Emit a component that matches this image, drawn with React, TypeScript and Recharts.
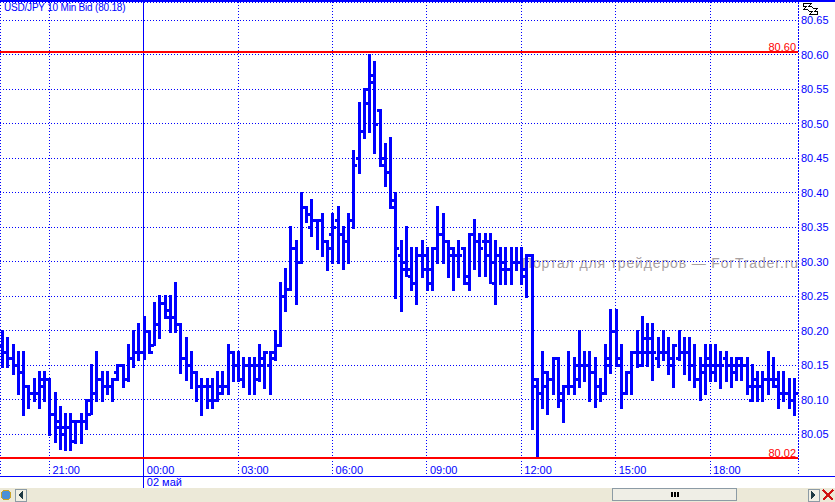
import { Bar, CartesianGrid, ComposedChart, ReferenceLine, XAxis, YAxis } from "recharts";

const BLUE = "#0000ff";
const RED = "#ff0000";

const highs = [
  80.2, 80.19, 80.18, 80.17, 80.17, 80.12, 80.13, 80.14, 80.14, 80.13, 80.11, 80.09, 80.08, 80.08, 80.07, 80.08,
  80.1, 80.15, 80.17, 80.14, 80.14, 80.13, 80.15, 80.15, 80.18, 80.2, 80.21, 80.22, 80.2, 80.24, 80.25, 80.25,
  80.25, 80.27, 80.21, 80.19, 80.17, 80.14, 80.13, 80.13, 80.13, 80.14, 80.14, 80.18, 80.17, 80.17, 80.16, 80.16,
  80.16, 80.18, 80.17, 80.17, 80.2, 80.27, 80.29, 80.35, 80.33, 80.4, 80.38, 80.39, 80.36, 80.37, 80.33, 80.37,
  80.38, 80.35, 80.37, 80.46, 80.53, 80.55, 80.6, 80.59, 80.52, 80.47, 80.48, 80.4, 80.33, 80.35, 80.32, 80.32,
  80.33, 80.32, 80.32, 80.38, 80.37, 80.33, 80.32, 80.33, 80.32, 80.34, 80.36, 80.34, 80.34, 80.34, 80.33, 80.32,
  80.32, 80.32, 80.32, 80.32, 80.31, 80.31, 80.13, 80.17, 80.14, 80.16, 80.16, 80.12, 80.17, 80.16, 80.2, 80.17,
  80.17, 80.16, 80.13, 80.18, 80.23, 80.23, 80.18, 80.14, 80.17, 80.2, 80.22, 80.21, 80.21, 80.19, 80.2, 80.19,
  80.18, 80.2, 80.19, 80.19, 80.18, 80.16, 80.18, 80.18, 80.18, 80.17, 80.17, 80.16, 80.16, 80.16, 80.16, 80.15,
  80.14, 80.14, 80.17, 80.16, 80.14, 80.14, 80.13, 80.13,
];
const lows = [
  80.15, 80.15, 80.14, 80.11, 80.08, 80.09, 80.1, 80.09, 80.1, 80.05, 80.04, 80.03, 80.03, 80.03, 80.04, 80.04,
  80.06, 80.08, 80.1, 80.1, 80.11, 80.1, 80.13, 80.12, 80.13, 80.15, 80.16, 80.16, 80.17, 80.18, 80.19, 80.22,
  80.2, 80.2, 80.14, 80.13, 80.12, 80.1, 80.08, 80.09, 80.09, 80.1, 80.11, 80.11, 80.13, 80.13, 80.12, 80.11,
  80.11, 80.13, 80.12, 80.11, 80.16, 80.18, 80.23, 80.26, 80.24, 80.3, 80.36, 80.34, 80.32, 80.31, 80.29, 80.3,
  80.3, 80.29, 80.3, 80.35, 80.43, 80.48, 80.49, 80.46, 80.44, 80.41, 80.38, 80.25, 80.23, 80.28, 80.26, 80.24,
  80.28, 80.26, 80.26, 80.3, 80.3, 80.28, 80.26, 80.28, 80.27, 80.26, 80.29, 80.28, 80.28, 80.27, 80.24, 80.27,
  80.27, 80.27, 80.29, 80.27, 80.25, 80.06, 80.02, 80.09, 80.08, 80.11, 80.09, 80.07, 80.11, 80.11, 80.12, 80.13,
  80.1, 80.09, 80.1, 80.11, 80.14, 80.15, 80.09, 80.11, 80.11, 80.15, 80.15, 80.15, 80.13, 80.15, 80.16, 80.14,
  80.12, 80.16, 80.14, 80.13, 80.12, 80.1, 80.11, 80.13, 80.13, 80.12, 80.13, 80.12, 80.13, 80.13, 80.11, 80.1,
  80.1, 80.1, 80.11, 80.12, 80.09, 80.1, 80.09, 80.08,
];
const opens = [
  80.18, 80.17, 80.16, 80.15, 80.14, 80.12, 80.11, 80.11, 80.13, 80.13, 80.08, 80.07, 80.06, 80.06, 80.04, 80.07,
  80.07, 80.08, 80.11, 80.13, 80.12, 80.12, 80.14, 80.15, 80.13, 80.16, 80.17, 80.17, 80.2, 80.18, 80.21, 80.24,
  80.23, 80.22, 80.21, 80.16, 80.15, 80.14, 80.12, 80.12, 80.1, 80.1, 80.12, 80.12, 80.17, 80.15, 80.13, 80.15,
  80.15, 80.13, 80.15, 80.15, 80.17, 80.18, 80.25, 80.26, 80.32, 80.3, 80.38, 80.35, 80.36, 80.36, 80.33, 80.34,
  80.36, 80.34, 80.33, 80.36, 80.45, 80.49, 80.53, 80.56, 80.52, 80.45, 80.43, 80.38, 80.31, 80.29, 80.28, 80.27,
  80.31, 80.29, 80.29, 80.32, 80.34, 80.33, 80.31, 80.31, 80.32, 80.27, 80.34, 80.33, 80.33, 80.31, 80.27, 80.31,
  80.3, 80.29, 80.3, 80.3, 80.29, 80.31, 80.12, 80.11, 80.12, 80.13, 80.16, 80.1, 80.12, 80.12, 80.15, 80.15,
  80.15, 80.14, 80.12, 80.11, 80.15, 80.2, 80.16, 80.11, 80.14, 80.17, 80.17, 80.19, 80.19, 80.16, 80.17, 80.17,
  80.15, 80.16, 80.17, 80.17, 80.15, 80.13, 80.15, 80.16, 80.15, 80.15, 80.16, 80.15, 80.15, 80.15, 80.15, 80.1,
  80.13, 80.12, 80.13, 80.13, 80.12, 80.11, 80.11, 80.1,
];
const closes = [
  80.17, 80.16, 80.15, 80.14, 80.12, 80.11, 80.11, 80.12, 80.13, 80.08, 80.06, 80.05, 80.06, 80.07, 80.07, 80.07,
  80.1, 80.11, 80.13, 80.12, 80.12, 80.13, 80.15, 80.13, 80.16, 80.17, 80.17, 80.2, 80.17, 80.21, 80.24, 80.22,
  80.22, 80.21, 80.16, 80.15, 80.14, 80.12, 80.12, 80.12, 80.1, 80.11, 80.12, 80.17, 80.15, 80.13, 80.15, 80.15,
  80.15, 80.16, 80.17, 80.16, 80.18, 80.25, 80.26, 80.32, 80.3, 80.38, 80.37, 80.36, 80.36, 80.33, 80.32, 80.35,
  80.34, 80.33, 80.36, 80.44, 80.49, 80.55, 80.57, 80.5, 80.44, 80.43, 80.39, 80.32, 80.3, 80.29, 80.27, 80.31,
  80.31, 80.27, 80.32, 80.34, 80.33, 80.32, 80.31, 80.31, 80.28, 80.34, 80.33, 80.32, 80.33, 80.3, 80.31, 80.29,
  80.29, 80.3, 80.3, 80.28, 80.31, 80.13, 80.11, 80.14, 80.13, 80.16, 80.11, 80.12, 80.12, 80.13, 80.15, 80.15,
  80.14, 80.12, 80.11, 80.16, 80.2, 80.15, 80.11, 80.14, 80.17, 80.15, 80.17, 80.17, 80.17, 80.17, 80.17, 80.16,
  80.18, 80.17, 80.17, 80.15, 80.13, 80.14, 80.15, 80.14, 80.15, 80.15, 80.15, 80.14, 80.16, 80.15, 80.12, 80.12,
  80.12, 80.13, 80.13, 80.13, 80.11, 80.11, 80.1, 80.11,
];

const timeSlots = [9, 27, 45, 63, 81, 99, 117, 135];
const timeLabels = ["21:00", "00:00", "03:00", "06:00", "09:00", "12:00", "15:00", "18:00"];
const midnightSlot = 27;
const dayLabel = "02 май";

const priceTicks = [80.05, 80.1, 80.15, 80.2, 80.25, 80.3, 80.35, 80.4, 80.45, 80.5, 80.55, 80.6, 80.65];
const highLine = 80.6045;
const lowLine = 80.0161;
const highLabel = "80.60";
const lowLabel = "80.02";

const title = "USD/JPY 10 Min Bid (80.18)";
const watermark = "Портал для трейдеров — ForTrader.ru";

const bars = highs.map((high, slot) => ({
  slot,
  high,
  low: lows[slot],
  open: opens[slot],
  close: closes[slot],
}));

const X_DOMAIN = [-0.42, 151.76];
const Y_DOMAIN = [79.9896, 80.6765];
const AXIS_LINE_END = 80.0128; // right axis stops just under the low line

// one OHLC bar: stem plus open tick on the left, close tick on the right
function OhlcBar(props: any) {
  const { x, y, width, height, payload } = props;
  const cx = Math.round(x + width / 2);
  const perUnit = height / (payload.high - payload.low);
  const yOf = (v: number) => Math.round(y + (payload.high - v) * perUnit);
  return (
    <g fill={BLUE}>
      <rect x={cx - 1} y={Math.round(y) - 1} width={3} height={Math.round(height) + 3} />
      <rect x={cx - 3} y={yOf(payload.open) - 1} width={3} height={3} />
      <rect x={cx + 1} y={yOf(payload.close) - 1} width={3} height={3} />
    </g>
  );
}

function TimeTick({ x, y, payload }: any) {
  const i = timeSlots.indexOf(payload.value);
  const isMidnight = payload.value === midnightSlot;
  return (
    <g>
      {isMidnight && <line x1={x} x2={x} y1={y} y2={y + 12} stroke={BLUE} />}
      <text x={x + 3} y={y - 2} fill={BLUE} fontSize={11}>
        {timeLabels[i]}
      </text>
      {isMidnight && (
        <text x={x + 3} y={y + 10} fill={BLUE} fontSize={11}>
          {dayLabel}
        </text>
      )}
    </g>
  );
}

function PriceLabel({ viewBox, text }: any) {
  return (
    <text x={viewBox.x + viewBox.width - 2} y={viewBox.y - 1} textAnchor="end" fill={RED} fontSize={11}>
      {text}
    </text>
  );
}

function Toolbar() {
  return (
    <div style={{ position: "absolute", left: 0, top: 488, width: 835, height: 14, background: "#ece9d8" }}>
      <svg width={835} height={14} style={{ display: "block" }}>
        <circle cx={6} cy={7} r={5} fill="#4a90d9" stroke="#c9a227" />
        <rect x={15} y={1} width={11} height={12} fill="#f1efe4" stroke="#8c9ba5" />
        <path d="M23 3 L23 11 L18 7 Z" fill="#1f3a44" />
        <rect x={612} y={0.5} width={124} height={12} fill="#efeee6" stroke="#8c9ba5" />
        <rect x={671} y={4} width={1.5} height={5} fill="#000" />
        <rect x={674} y={4} width={1.5} height={5} fill="#000" />
        <rect x={677} y={4} width={1.5} height={5} fill="#000" />
        <rect x={808} y={1} width={11} height={12} fill="#f1efe4" stroke="#8c9ba5" />
        <path d="M811 3 L811 11 L816 7 Z" fill="#1f3a44" />
        <path d="M823 2 L833 12 M833 2 L823 12" stroke="#d01010" strokeWidth={2} />
      </svg>
    </div>
  );
}

// small zoom glyph in the top right corner
function ZoomGlyph() {
  return (
    <svg width={18} height={14} style={{ position: "absolute", left: 801, top: 2 }}>
      <path
        d="M2.5 1.5 H10.5 L7.5 4.5 H10.5 L12.5 6.5 H16.5 L13.5 9.5 H16.5 V12.5 H8.5 L11.5 9.5 H8.5 L6.5 7.5 H2.5 L5.5 4.5 H2.5 Z"
        fill="#fff"
        stroke="#000"
      />
    </svg>
  );
}

export default function App() {
  return (
    <div
      style={{
        position: "absolute",
        left: 0,
        top: 0,
        width: 835,
        height: 502,
        overflow: "hidden",
        background: "#fff",
        fontFamily: "'Liberation Sans', Arial, sans-serif",
        shapeRendering: "crispEdges",
      }}
    >
      <div
        style={{
          position: "absolute",
          left: 522,
          top: 255,
          whiteSpace: "nowrap",
          fontSize: 14,
          letterSpacing: 0.85,
          color: "#a8a0a0",
        }}
      >
        {watermark}
      </div>
      <div
        style={{
          position: "absolute",
          left: 4,
          top: 2,
          fontSize: 10,
          letterSpacing: -0.2,
          color: BLUE,
          whiteSpace: "nowrap",
        }}
      >
        {title}
      </div>
      <div style={{ position: "absolute", left: 0, top: 0, width: 835, height: 2, background: BLUE }} />
      <div style={{ position: "absolute", left: 0, top: 476, width: 835, height: 1, background: BLUE }} />
      <div style={{ position: "absolute", left: 0, top: 0 }}>
        <ComposedChart width={835} height={502} data={bars} margin={{ top: 2, right: 0, bottom: 0, left: 0 }}>
          <CartesianGrid stroke={BLUE} strokeDasharray="1 2" />
          <XAxis
            dataKey="slot"
            type="number"
            domain={X_DOMAIN}
            ticks={timeSlots}
            interval={0}
            height={26}
            axisLine={false}
            tickLine={false}
            tickSize={0}
            tickMargin={0}
            tick={<TimeTick />}
            allowDataOverflow
          />
          <YAxis
            orientation="right"
            type="number"
            domain={Y_DOMAIN}
            ticks={priceTicks}
            width={37}
            interval={0}
            allowDataOverflow
            axisLine={false}
            tickLine={false}
            tickSize={0}
            tickMargin={3}
            tick={{ fill: BLUE, fontSize: 11, textAnchor: "start" }}
            tickFormatter={(v: number) => v.toFixed(2)}
          />
          <ReferenceLine
            segment={[
              { x: X_DOMAIN[1], y: AXIS_LINE_END },
              { x: X_DOMAIN[1], y: Y_DOMAIN[1] },
            ]}
            stroke={BLUE}
            strokeDasharray="1 2"
          />
          <ReferenceLine x={midnightSlot} stroke={BLUE} />
          <ReferenceLine
            y={highLine}
            stroke={RED}
            strokeWidth={2}
            label={(p: any) => <PriceLabel {...p} text={highLabel} />}
          />
          <ReferenceLine
            y={lowLine}
            stroke={RED}
            strokeWidth={2}
            label={(p: any) => <PriceLabel {...p} text={lowLabel} />}
          />
          <Bar
            dataKey={(d: any) => [d.low, d.high]}
            barSize={3}
            shape={<OhlcBar />}
            isAnimationActive={false}
          />
        </ComposedChart>
      </div>
      <ZoomGlyph />
      <Toolbar />
    </div>
  );
}
